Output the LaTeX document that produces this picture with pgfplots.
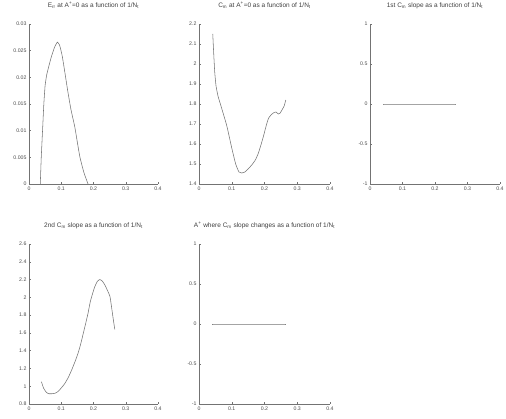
\documentclass[border=0pt]{standalone}
\usepackage{fontspec}
\setmainfont{Liberation Sans}
\usepackage{pgfplots}
\pgfplotsset{compat=1.18}

\pgfplotsset{
  mpanel/.style={
    scale only axis, anchor=south west,
    width=130pt, height=160pt,
    xmin=0, xmax=0.4,
    axis lines*=left, axis line style={-, black!55, line width=0.4pt},
    tick align=inside, major tick length=2pt,
    tick style={black!55, line width=0.4pt},
    scaled ticks=false,
    xtick={0,0.1,0.2,0.3,0.4},
    xticklabels={0,0.1,0.2,0.3,0.4},
    ticklabel style={font=\fontsize{5.2}{5.5}\selectfont, text=black!70},
    xticklabel style={yshift=1pt},
    yticklabel style={xshift=1pt},
    title style={font=\fontsize{6.5}{7}\selectfont, text=black!75, at={(0.5,1)}, anchor=south, yshift=6pt},
  },
  curve/.style={black!55, line width=0.55pt, no marks, smooth, tension=0.3},
}

\begin{document}
\begin{tikzpicture}[x=1pt,y=1pt]
\path[use as bounding box] (0,0) rectangle (506,419);

% row 1, panel 1
\begin{axis}[mpanel, at={(29pt,235pt)}, width=129pt,
    ymin=0, ymax=0.03,
    ytick={0,0.005,0.01,0.015,0.02,0.025,0.03},
    yticklabels={0,0.005,0.01,0.015,0.02,0.025,0.03},
    title={E\textsubscript{rr} at A\textsuperscript{+}=0 as a function of 1/N\textsubscript{t}}]
\addplot[curve] coordinates {
  (0.035,0) (0.038,0.005) (0.042,0.0100) (0.046,0.0150) (0.050,0.0185)
  (0.055,0.0205) (0.062,0.0222) (0.070,0.0240) (0.079,0.0256) (0.088,0.0266)
  (0.095,0.0260) (0.103,0.0240) (0.111,0.0210) (0.120,0.0175) (0.130,0.0140)
  (0.142,0.0107) (0.150,0.0078) (0.158,0.0050) (0.170,0.0022) (0.183,0)
};
\end{axis}

% row 1, panel 2
\begin{axis}[mpanel, at={(199pt,235pt)}, width=131pt,
    ymin=1.4, ymax=2.2,
    ytick={1.4,1.5,1.6,1.7,1.8,1.9,2,2.1,2.2},
    yticklabels={1.4,1.5,1.6,1.7,1.8,1.9,2,2.1,2.2},
    title={C\textsubscript{m} at A\textsuperscript{+}=0 as a function of 1/N\textsubscript{t}}]
\addplot[curve] coordinates {
  (0.042,2.15) (0.045,2.05) (0.048,1.96) (0.052,1.89) (0.058,1.84)
  (0.068,1.785) (0.085,1.69) (0.100,1.58) (0.112,1.50) (0.122,1.46)
  (0.130,1.455) (0.140,1.46) (0.150,1.475) (0.161,1.495) (0.172,1.52)
  (0.181,1.553) (0.190,1.60) (0.197,1.64) (0.205,1.69) (0.212,1.728)
  (0.220,1.745) (0.227,1.755) (0.235,1.76) (0.242,1.75) (0.248,1.755)
  (0.255,1.775) (0.260,1.79) (0.265,1.82)
};
\end{axis}

% row 1, panel 3
\begin{axis}[mpanel, at={(370pt,235pt)},
    ymin=-1, ymax=1,
    ytick={-1,-0.5,0,0.5,1},
    yticklabels={-1,-0.5,0,0.5,1},
    title={1st C\textsubscript{m} slope as a function of 1/N\textsubscript{t}}]
\addplot[curve] coordinates {(0.04,0) (0.265,0)};
\end{axis}

% row 2, panel 4
\begin{axis}[mpanel, at={(29pt,15pt)}, width=129pt,
    ymin=0.8, ymax=2.6,
    ytick={0.8,1,1.2,1.4,1.6,1.8,2,2.2,2.4,2.6},
    yticklabels={0.8,1,1.2,1.4,1.6,1.8,2,2.2,2.4,2.6},
    title={2nd C\textsubscript{m} slope as a function of 1/N\textsubscript{t}}]
\addplot[curve] coordinates {
  (0.0385,1.05) (0.045,0.98) (0.054,0.93) (0.062,0.915) (0.070,0.915)
  (0.080,0.92) (0.090,0.94) (0.100,0.98) (0.111,1.03) (0.122,1.10)
  (0.132,1.18) (0.142,1.27) (0.152,1.37) (0.160,1.47) (0.168,1.59)
  (0.176,1.71) (0.183,1.82) (0.190,1.95) (0.197,2.04) (0.204,2.12)
  (0.212,2.18) (0.220,2.20) (0.228,2.18) (0.235,2.14) (0.243,2.08)
  (0.251,2.01) (0.256,1.89) (0.261,1.76) (0.266,1.64)
};
\end{axis}

% row 2, panel 5
\begin{axis}[mpanel, at={(199pt,15pt)}, width=131pt,
    ymin=-1, ymax=1,
    ytick={-1,-0.5,0,0.5,1},
    yticklabels={-1,-0.5,0,0.5,1},
    title={A\textsuperscript{+} where C\textsubscript{m} slope changes as a function of 1/N\textsubscript{t}}]
\addplot[curve] coordinates {(0.04,0) (0.265,0)};
\end{axis}

\end{tikzpicture}
\end{document}
